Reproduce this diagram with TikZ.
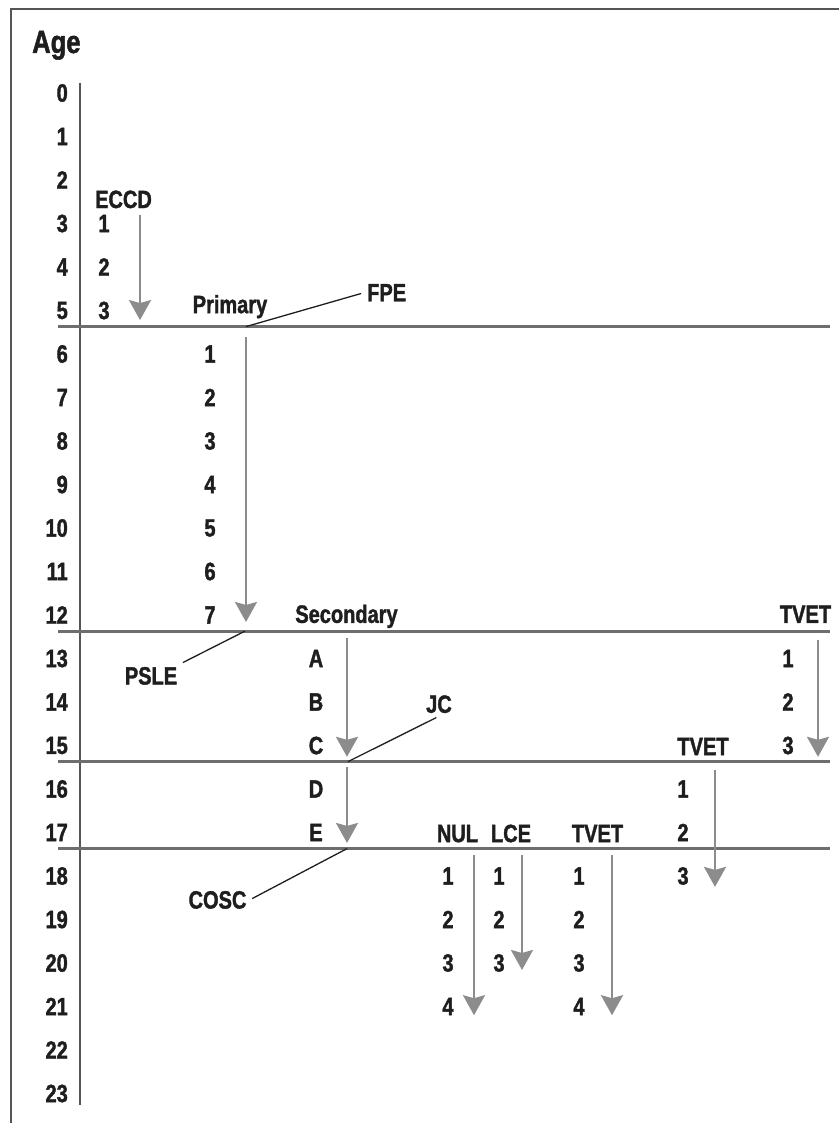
\documentclass[tikz,border=0pt]{standalone}
\usepackage{fontspec}
\setmainfont{Liberation Sans}[FakeStretch=0.8, BoldFeatures={FakeBold=1.5}]
\usetikzlibrary{arrows.meta, positioning}
\definecolor{axisgray}{HTML}{555555}
\definecolor{arrowgray}{HTML}{8C8C8C}
\definecolor{inkblack}{HTML}{1E1E1E}

\begin{document}
\begin{tikzpicture}[
  x=1pt, y=-43.5pt,
  every node/.style={font=\fontsize{25}{25}\selectfont\bfseries, text=inkblack},
  agenum/.style={anchor=east, inner sep=0pt},
  num/.style={inner sep=0pt},
  head/.style={anchor=base, inner sep=0pt},
  lbl/.style={inner sep=3pt},
  frameline/.style={draw=axisgray, line width=2.6pt},
  axis/.style={draw=axisgray, line width=2.4pt},
  stage/.style={draw=axisgray!85, line width=3pt},
  flow/.style={draw=arrowgray, line width=2.4pt, -{Stealth[length=20pt, width=22pt, inset=3pt]}},
  leader/.style={draw=inkblack, line width=1.3pt, shorten <=3pt}
]
\useasboundingbox (0,-2.138) rectangle (838,23.678);

% frame and age axis
\draw[frameline] (845,-1.931) -- (11,-1.931) -- (11,24);
\node[anchor=base west, inner sep=0pt, font=\fontsize{32}{32}\selectfont\bfseries] (age) at (32,-0.92) {Age};
\draw[axis] (80,-0.23) -- (80,23.26);
\foreach \a in {0,...,23}
  \node[agenum] (age\a) at (68,\a) {\a};

% stage boundaries
\foreach \r in {5.37,12.37,15.37,17.37}
  \draw[stage] (58,\r) -- (830,\r);

% ECCD
\node[head] (eccd) at (123.5,2.644) {ECCD};
\foreach \n in {1,2,3}
  \node[num] (eccd\n) at (104,{\n+2}) {\n};
\coordinate (eccd-a) at (140,2.80);
\coordinate (eccd-b) at (140,5.22);
\draw[flow] (eccd-a) -- (eccd-b);

% Primary
\node[head] (primary) at (230,5.06) {Primary};
\foreach \n in {1,...,7}
  \node[num] (prim\n) at (210,{\n+5}) {\n};
\coordinate (prim-a) at (246,5.61);
\coordinate (prim-b) at (246,12.16);
\draw[flow] (prim-a) -- (prim-b);

% Secondary
\node[head] (secondary) at (346.5,12.18) {Secondary};
\foreach \l [count=\i from 13] in {A,B,C,D,E}
  \node[num] (sec\l) at (316,\i) {\l};
\coordinate (sec-a) at (347,12.53);
\coordinate (sec-b) at (347,15.26);
\coordinate (sec-c) at (347,15.49);
\coordinate (sec-d) at (347,17.24);
\draw[flow] (sec-a) -- (sec-b);
\draw[flow] (sec-c) -- (sec-d);

% TVET after primary
\node[head] (tvetA) at (805.5,12.18) {TVET};
\foreach \n in {1,2,3}
  \node[num] (tvetA\n) at (788,{\n+12}) {\n};
\coordinate (tvetA-a) at (818,12.57);
\coordinate (tvetA-b) at (818,15.26);
\draw[flow] (tvetA-a) -- (tvetA-b);

% TVET after JC
\node[head] (tvetB) at (703,15.22) {TVET};
\foreach \n in {1,2,3}
  \node[num] (tvetB\n) at (683,{\n+15}) {\n};
\coordinate (tvetB-a) at (715,15.56);
\coordinate (tvetB-b) at (715,18.25);
\draw[flow] (tvetB-a) -- (tvetB-b);

% after COSC
\node[head] (nul) at (457.5,17.22) {NUL};
\node[head] (lce) at (511,17.22) {LCE};
\node[head] (tvetC) at (597.5,17.22) {TVET};
\foreach \n in {1,...,4}
  \node[num] (nul\n) at (448,{\n+17}) {\n};
\foreach \n in {1,2,3}
  \node[num] (lce\n) at (499,{\n+17}) {\n};
\foreach \n in {1,...,4}
  \node[num] (tvetC\n) at (579,{\n+17}) {\n};
\coordinate (nul-a) at (474,17.52);
\coordinate (nul-b) at (474,21.2);
\coordinate (lce-a) at (522,17.52);
\coordinate (lce-b) at (522,20.16);
\coordinate (tvetC-a) at (612,17.52);
\coordinate (tvetC-b) at (612,21.2);
\draw[flow] (nul-a) -- (nul-b);
\draw[flow] (lce-a) -- (lce-b);
\draw[flow] (tvetC-a) -- (tvetC-b);

% examinations
\node[lbl, anchor=west] (fpe) at (364,4.59) {FPE};
\node[lbl] (psle) at (151,13.40) {PSLE};
\node[lbl] (jc) at (439,14.05) {JC};
\node[lbl] (cosc) at (217.5,18.55) {COSC};
\coordinate (fpe-pt) at (246,5.37);
\coordinate (psle-pt) at (245,12.37);
\coordinate (jc-pt) at (348,15.37);
\coordinate (cosc-pt) at (347,17.37);
\draw[leader] (fpe.west) -- (fpe-pt);
\draw[leader] (psle.north east) -- (psle-pt);
\draw[leader] (jc.south) -- (jc-pt);
\draw[leader] (cosc.east) -- (cosc-pt);
\end{tikzpicture}
\end{document}
